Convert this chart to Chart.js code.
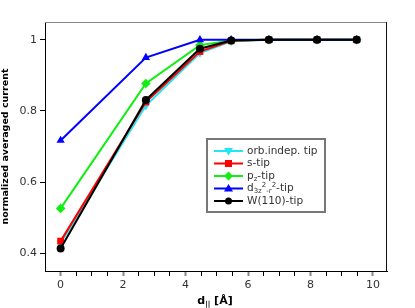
<!DOCTYPE html>
<html>
<head>
<meta charset="utf-8">
<script src="https://cdn.jsdelivr.net/npm/chart.js@4"></script>
<style>
  html, body { margin: 0; padding: 0; background: #fff; }
  #wrap { width: 415px; height: 308px; }
</style>
</head>
<body>
<div id="wrap"><canvas id="c" width="415" height="308"></canvas></div>
<script>
const distances = [0, 2.73, 4.46, 5.46, 6.67, 8.21, 9.48];
const orbIndep = [0.428, 0.815, 0.963, 0.996, 1, 1, 1];
const sTip = [0.434, 0.825, 0.967, 0.997, 1, 1, 1];
const pzTip = [0.526, 0.877, 0.985, 0.998, 1, 1, 1];
const dTip = [0.717, 0.95, 1, 1, 1, 1, 1];
const wTip = [0.413, 0.831, 0.975, 0.998, 1, 1, 1];
const yTicks = [0.4, 0.6, 0.8, 1];
const xTicks = [0, 0.5, 1, 1.5, 2, 2.5, 3, 3.5, 4, 4.5, 5, 5.5, 6, 6.5, 7, 7.5, 8, 8.5, 9, 9.5, 10];

const FONT = "'DejaVu Sans', sans-serif";

function pts(vals) {
  return vals.map((v, i) => ({ x: distances[i], y: v }));
}

const isMajor = v => Math.abs(v % 2) < 1e-6;

// legend entries: parts are [text, kind] where kind is n (normal), sub or sup
const legendItems = [
  { color: "#22e6f2", style: "triangleDown", parts: [["orb.indep. tip", "n"]] },
  { color: "#ff0000", style: "rect", parts: [["s-tip", "n"]] },
  { color: "#11ee11", style: "rectRot", parts: [["p", "n"], ["z", "sub"], ["-tip", "n"]] },
  { color: "#0000ff", style: "triangle", parts: [["d", "n"], ["3z", "sub"], ["2", "sup"], ["-r", "sub"], ["2", "sup"], ["-tip", "n"]] },
  { color: "#000000", style: "circle", parts: [["W(110)-tip", "n"]] }
];

function drawMarker(ctx, style, x, y, color) {
  ctx.fillStyle = color;
  ctx.beginPath();
  if (style === "circle") {
    ctx.arc(x, y, 3.5, 0, Math.PI * 2);
  } else if (style === "rect") {
    ctx.rect(x - 3.5, y - 3.5, 7, 7);
  } else if (style === "rectRot") {
    ctx.moveTo(x, y - 4.5); ctx.lineTo(x + 4.5, y); ctx.lineTo(x, y + 4.5); ctx.lineTo(x - 4.5, y);
  } else if (style === "triangle") {
    ctx.moveTo(x, y - 4.5); ctx.lineTo(x + 4.5, y + 3); ctx.lineTo(x - 4.5, y + 3);
  } else {
    ctx.moveTo(x, y + 4.5); ctx.lineTo(x + 4.5, y - 3); ctx.lineTo(x - 4.5, y - 3);
  }
  ctx.closePath();
  ctx.fill();
}

const extras = {
  id: "extras",
  afterDraw(chart) {
    const ctx = chart.ctx;
    const a = chart.chartArea;
    ctx.save();
    // frame: top gray, right dark
    ctx.lineWidth = 1;
    ctx.strokeStyle = "#888";
    ctx.beginPath(); ctx.moveTo(a.left, a.top + 0.5); ctx.lineTo(a.right, a.top + 0.5); ctx.stroke();
    ctx.strokeStyle = "#111";
    ctx.beginPath(); ctx.moveTo(a.right - 0.5, a.top); ctx.lineTo(a.right - 0.5, a.bottom); ctx.stroke();

    // x title with subscript
    ctx.fillStyle = "#000";
    ctx.textBaseline = "alphabetic";
    const bold = "bold 11px " + FONT;
    const small = "bold 7px " + FONT;
    ctx.font = bold; const w1 = ctx.measureText("d").width;
    ctx.font = small; const w2 = ctx.measureText("||").width;
    ctx.font = bold; const w3 = ctx.measureText(" [Å]").width;
    let x = 215 - (w1 + w2 + w3) / 2;
    const y = 304;
    ctx.font = bold; ctx.fillText("d", x, y); x += w1;
    ctx.font = small; ctx.fillText("||", x, y + 2); x += w2;
    ctx.font = bold; ctx.fillText(" [Å]", x, y);

    // legend box
    const bx = 207, by = 139, bw = 118, bh = 73;
    ctx.fillStyle = "#fff";
    ctx.fillRect(bx, by, bw, bh);
    ctx.strokeStyle = "#777";
    ctx.lineWidth = 2;
    ctx.strokeRect(bx, by, bw, bh);
    legendItems.forEach((it, i) => {
      const ry = 151 + i * 12.5;
      ctx.strokeStyle = it.color;
      ctx.lineWidth = 2;
      ctx.beginPath(); ctx.moveTo(214, ry); ctx.lineTo(243, ry); ctx.stroke();
      drawMarker(ctx, it.style, 228.5, ry, it.color);
      let tx = 247;
      ctx.fillStyle = "#333";
      ctx.textBaseline = "middle";
      it.parts.forEach(([t, kind]) => {
        if (kind === "n") { ctx.font = "10.5px " + FONT; ctx.fillText(t, tx, ry); }
        else if (kind === "sub") { ctx.font = "7px " + FONT; ctx.fillText(t, tx, ry + 3); }
        else { ctx.font = "7px " + FONT; ctx.fillText(t, tx, ry - 3); }
        tx += ctx.measureText(t).width;
      });
    });
    ctx.restore();
  }
};

const mk = (label, vals, color, style, order, rotation) => ({
  label, data: pts(vals), borderColor: color, backgroundColor: color,
  borderWidth: 2, pointStyle: style, pointRadius: style === "circle" ? 4 : 4.8,
  pointBorderWidth: 0, order, showLine: true, tension: 0, rotation: rotation || 0
});

new Chart(document.getElementById("c"), {
  type: "scatter",
  data: {
    datasets: [
      mk("orb.indep. tip", orbIndep, "#22e6f2", "triangle", 5, 180),
      mk("s-tip", sTip, "#ff0000", "rect", 4),
      mk("pz-tip", pzTip, "#11ee11", "rectRot", 3),
      mk("d-tip", dTip, "#0000ff", "triangle", 2),
      mk("W(110)-tip", wTip, "#000000", "circle", 1)
    ]
  },
  options: {
    responsive: false,
    animation: false,
    layout: { padding: { top: 22, right: 28, left: 0, bottom: 0 } },
    plugins: { legend: { display: false }, tooltip: { enabled: false } },
    scales: {
      x: {
        type: "linear", min: -0.5, max: 10.45,
        border: { color: "#000", width: 1 },
        grid: {
          drawOnChartArea: false, drawTicks: true, tickLength: 5,
          tickColor: c => (isMajor(c.tick.value) ? "#888" : "#000"),
          tickWidth: c => (isMajor(c.tick.value) ? 2 : 1)
        },
        afterBuildTicks: s => { s.ticks = xTicks.map(v => ({ value: v })); },
        ticks: {
          autoSkip: false, maxRotation: 0, padding: 3,
          color: "#333", font: { family: FONT, size: 11 },
          callback: v => (isMajor(v) ? String(v) : "")
        },
        afterFit: s => { s.height = 37; }
      },
      y: {
        type: "linear", min: 0.35, max: 1.05,
        border: { color: "#000", width: 1 },
        grid: { drawOnChartArea: false, tickLength: 5, tickColor: "#000" },
        afterBuildTicks: s => { s.ticks = yTicks.map(v => ({ value: v })); },
        ticks: {
          padding: 3, color: "#333", font: { family: FONT, size: 11 },
          callback: v => String(v)
        },
        title: {
          display: true, text: "normalized averaged current", color: "#000",
          font: { family: FONT, size: 9.5, weight: "bold" }, padding: 0
        },
        afterFit: s => { s.width = 45; }
      }
    }
  },
  plugins: [extras]
});
</script>
</body>
</html>
